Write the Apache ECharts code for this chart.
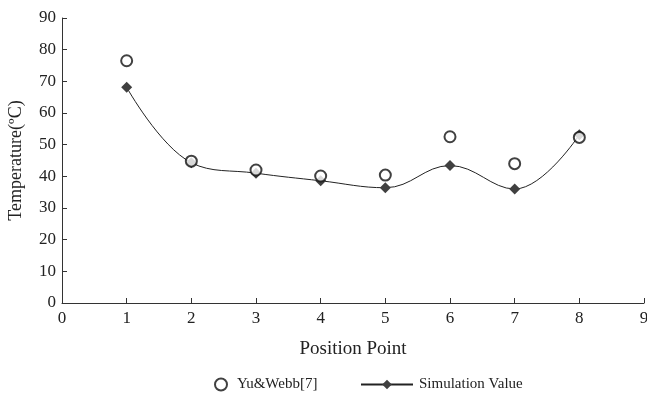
<!DOCTYPE html>
<html>
<head>
<meta charset="utf-8">
<script src="https://cdn.jsdelivr.net/npm/echarts@6/dist/echarts.min.js"></script>
<style>
  html, body { margin: 0; padding: 0; background: #fff; }
  #chart { width: 647px; height: 394px; }
</style>
</head>
<body>
<div id="chart"></div>
<script>
const positions = [1, 2, 3, 4, 5, 6, 7, 8];
const yuWebb = [76.5, 44.8, 42.0, 40.1, 40.4, 52.5, 44.0, 52.3];
const simulation = [68.1, 44.3, 41.0, 38.6, 36.4, 43.4, 36.0, 53.1];

const serif = '"Liberation Serif", "DejaVu Serif", serif';
const ink = '#222';

const chart = echarts.init(document.getElementById('chart'));
chart.setOption({
  animation: false,
  grid: { left: 62, right: 3, top: 18, bottom: 91, outerBoundsMode: 'none', containLabel: false },
  textStyle: { fontFamily: serif },
  legend: [
    {
      data: ['Yu&Webb[7]'],
      left: 209, top: 372,
      icon: 'emptyCircle',
      itemWidth: 12, itemHeight: 12,
      textStyle: { fontFamily: serif, fontSize: 15, color: ink, padding: [0, 0, 0, 5] }
    },
    {
      data: ['Simulation Value'],
      left: 355, top: 372,
      itemWidth: 52, itemHeight: 12,
      textStyle: { fontFamily: serif, fontSize: 15, color: ink, padding: [0, 0, 0, 1] }
    }
  ],
  xAxis: {
    type: 'value',
    min: 0, max: 9, interval: 1,
    name: 'Position Point',
    nameLocation: 'middle',
    nameGap: 37,
    nameTextStyle: { fontFamily: serif, fontSize: 19, color: ink },
    axisLine: { lineStyle: { color: '#333', width: 1 } },
    axisTick: { inside: true, length: 5, lineStyle: { color: '#333' } },
    axisLabel: { fontFamily: serif, fontSize: 17, color: ink, margin: 7, showMaxLabel: true },
    splitLine: { show: false }
  },
  yAxis: {
    type: 'value',
    min: 0, max: 90, interval: 10,
    name: 'Temperature(ºC)',
    nameLocation: 'middle',
    nameGap: 37,
    nameTextStyle: { fontFamily: serif, fontSize: 18, color: ink },
    axisLine: { show: true, lineStyle: { color: '#333', width: 1 } },
    axisTick: { show: true, inside: true, length: 5, lineStyle: { color: '#333' } },
    axisLabel: { fontFamily: serif, fontSize: 17, color: ink, margin: 6 },
    splitLine: { show: false }
  },
  series: [
    {
      name: 'Simulation Value',
      type: 'line',
      smooth: 0.4,
      data: positions.map((p, i) => [p, simulation[i]]),
      symbol: 'diamond',
      symbolSize: 11,
      itemStyle: { color: '#404040' },
      lineStyle: { color: '#222', width: 1 },
      z: 2
    },
    {
      name: 'Yu&Webb[7]',
      type: 'scatter',
      data: positions.map((p, i) => [p, yuWebb[i]]),
      symbol: 'emptyCircle',
      symbolSize: 11,
      itemStyle: { color: '#111', borderColor: '#111', borderWidth: 1.3 },
      z: 3
    }
  ]
});
</script>
</body>
</html>
